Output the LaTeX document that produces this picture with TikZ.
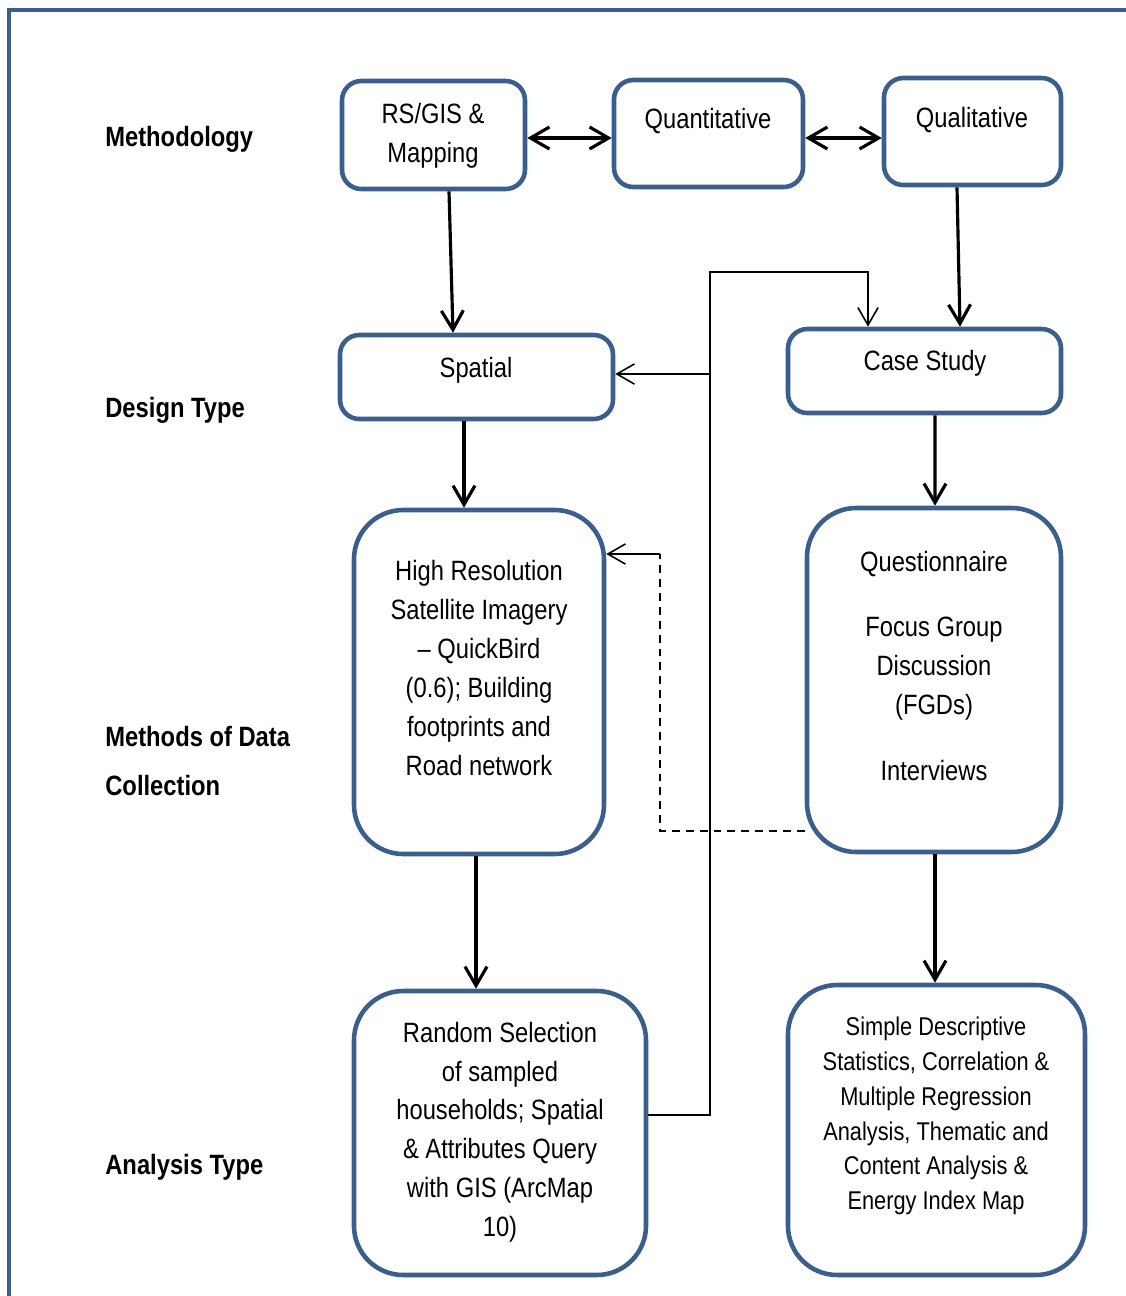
\documentclass[tikz,border=0pt]{standalone}
\usepackage{fontspec}
\setmainfont{Liberation Sans}[FakeStretch=0.85]
\usetikzlibrary{arrows.meta,fit}
\definecolor{frameblue}{RGB}{59,94,140}

\tikzset{
  box/.style={draw=frameblue, line width=2.6pt, rounded corners=11pt, inner sep=0pt},
  bigbox/.style={box, rounded corners=28pt},
  txt/.style={font=\fontsize{15.9}{22.1}\selectfont, align=center, inner sep=0pt},
  smalltxt/.style={font=\fontsize{14.6}{19.8}\selectfont, align=center, inner sep=0pt},
  lbl/.style={font=\bfseries\fontsize{15.9}{28.3}\selectfont, anchor=west, align=left, inner sep=0pt},
  flow/.style={line width=1.8pt, -{Straight Barb[length=10.8pt,width=12.5pt,line width=1.8pt]}},
  both/.style={line width=1.8pt, {Straight Barb[length=10.8pt,width=12.5pt,line width=1.8pt]}-{Straight Barb[length=10.8pt,width=12.5pt,line width=1.8pt]}},
  link/.style={line width=0.9pt},
  linkarrow/.style={line width=0.9pt, -{Straight Barb[length=10pt,width=11.5pt,line width=0.9pt]}},
}

\begin{document}
\begin{tikzpicture}[x=0.02cm, y=-0.02cm]
  \useasboundingbox (0,0) rectangle (1126,1296);

  % outer frame (left and top edges)
  \draw[frameblue, line width=2.6pt] (9,1296) -- (9,10) -- (1126,10);

  % row labels
  \node[lbl] (l1) at (105,139) {Methodology};
  \node[lbl] (l2) at (105,410) {Design Type};
  \node[lbl] (l3) at (105,761) {Methods of Data\\Collection};
  \node[lbl] (l4) at (105,1167) {Analysis Type};

  % boxes
  \node[box, fit={(342,81) (525,189)}] (rs) {};
  \node[box, fit={(614,80) (803,187)}] (quant) {};
  \node[box, fit={(884,78) (1061,185)}] (qual) {};
  \node[box, fit={(340,335) (613,419)}] (spatial) {};
  \node[box, fit={(788,329) (1061,413)}] (case) {};
  \node[bigbox, fit={(354,510) (604,854)}] (hires) {};
  \node[bigbox, fit={(807,508) (1061,852)}] (quest) {};
  \node[bigbox, fit={(354,991) (646,1275)}] (random) {};
  \node[bigbox, fit={(788,985) (1085,1275)}] (simple) {};

  % box texts
  \node[txt] (rs-t) at (433,136) {RS/GIS \&\\Mapping};
  \node[txt] (quant-t) at (708,121) {Quantitative};
  \node[txt] (qual-t) at (972,120) {Qualitative};
  \node[txt] (spatial-t) at (476,370) {Spatial};
  \node[txt] (case-t) at (925,363) {Case Study};
  \node[txt] (hires-t) at (479,668) {High Resolution\\Satellite Imagery\\– QuickBird\\(0.6); Building\\footprints and\\Road network};
  \node[txt] (quest-t) at (934,666) {Questionnaire\\[14.7pt]Focus Group\\Discussion\\(FGDs)\\[15.5pt]Interviews};
  \node[txt] (random-t) at (500,1132) {Random Selection\\of sampled\\households; Spatial\\\& Attributes Query\\with GIS (ArcMap\\10)};
  \node[smalltxt] (simple-t) at (936,1116) {Simple Descriptive\\Statistics, Correlation \&\\Multiple Regression\\Analysis, Thematic and\\Content Analysis \&\\Energy Index Map};

  % methodology links
  \draw[both] ([shift={(0,3)}]rs.east) -- ([shift={(0,3)}]rs.east -| quant.west);
  \draw[both] ([shift={(0,4.5)}]quant.east) -- ([shift={(0,4.5)}]quant.east -| qual.west);

  % vertical flow
  \draw[flow] ([shift={(15.5,0)}]rs.south) -- ([shift={(-23.5,0)}]spatial.north);
  \draw[flow] ([shift={(-15.5,0)}]qual.south) -- ([shift={(35.5,0)}]case.north);
  \draw[flow] ([shift={(-12.5,0)}]spatial.south) -- ([shift={(-15,0)}]hires.north);
  \draw[flow] ([shift={(10.5,0)}]case.south) -- ([shift={(1,0)}]quest.north);
  \draw[flow] ([shift={(-3,0)}]hires.south) -- ([shift={(-24,0)}]random.north);
  \draw[flow] ([shift={(1,0)}]quest.south) -- ([shift={(-1.5,0)}]simple.north);

  % feedback line from the analysis box
  \coordinate (j1) at (710,1115);
  \coordinate (j2) at (710,272);
  \coordinate (j3) at (868,272);
  \coordinate (jm) at (710,374);
  \draw[linkarrow] (random.east |- j1) -- (j1) -- (j2) -- (j3) -- (j3 |- case.north);
  \draw[linkarrow] (jm) -- (jm -| spatial.east);

  % dashed link between data collection boxes
  \coordinate (d1) at (660,831);
  \coordinate (d2) at (660,554);
  \draw[link, dash pattern=on 4.5pt off 3.4pt] (quest.west |- d1) -- (d1) -- (d2);
  \draw[linkarrow] (d2) -- (d2 -| hires.east);
\end{tikzpicture}
\end{document}
